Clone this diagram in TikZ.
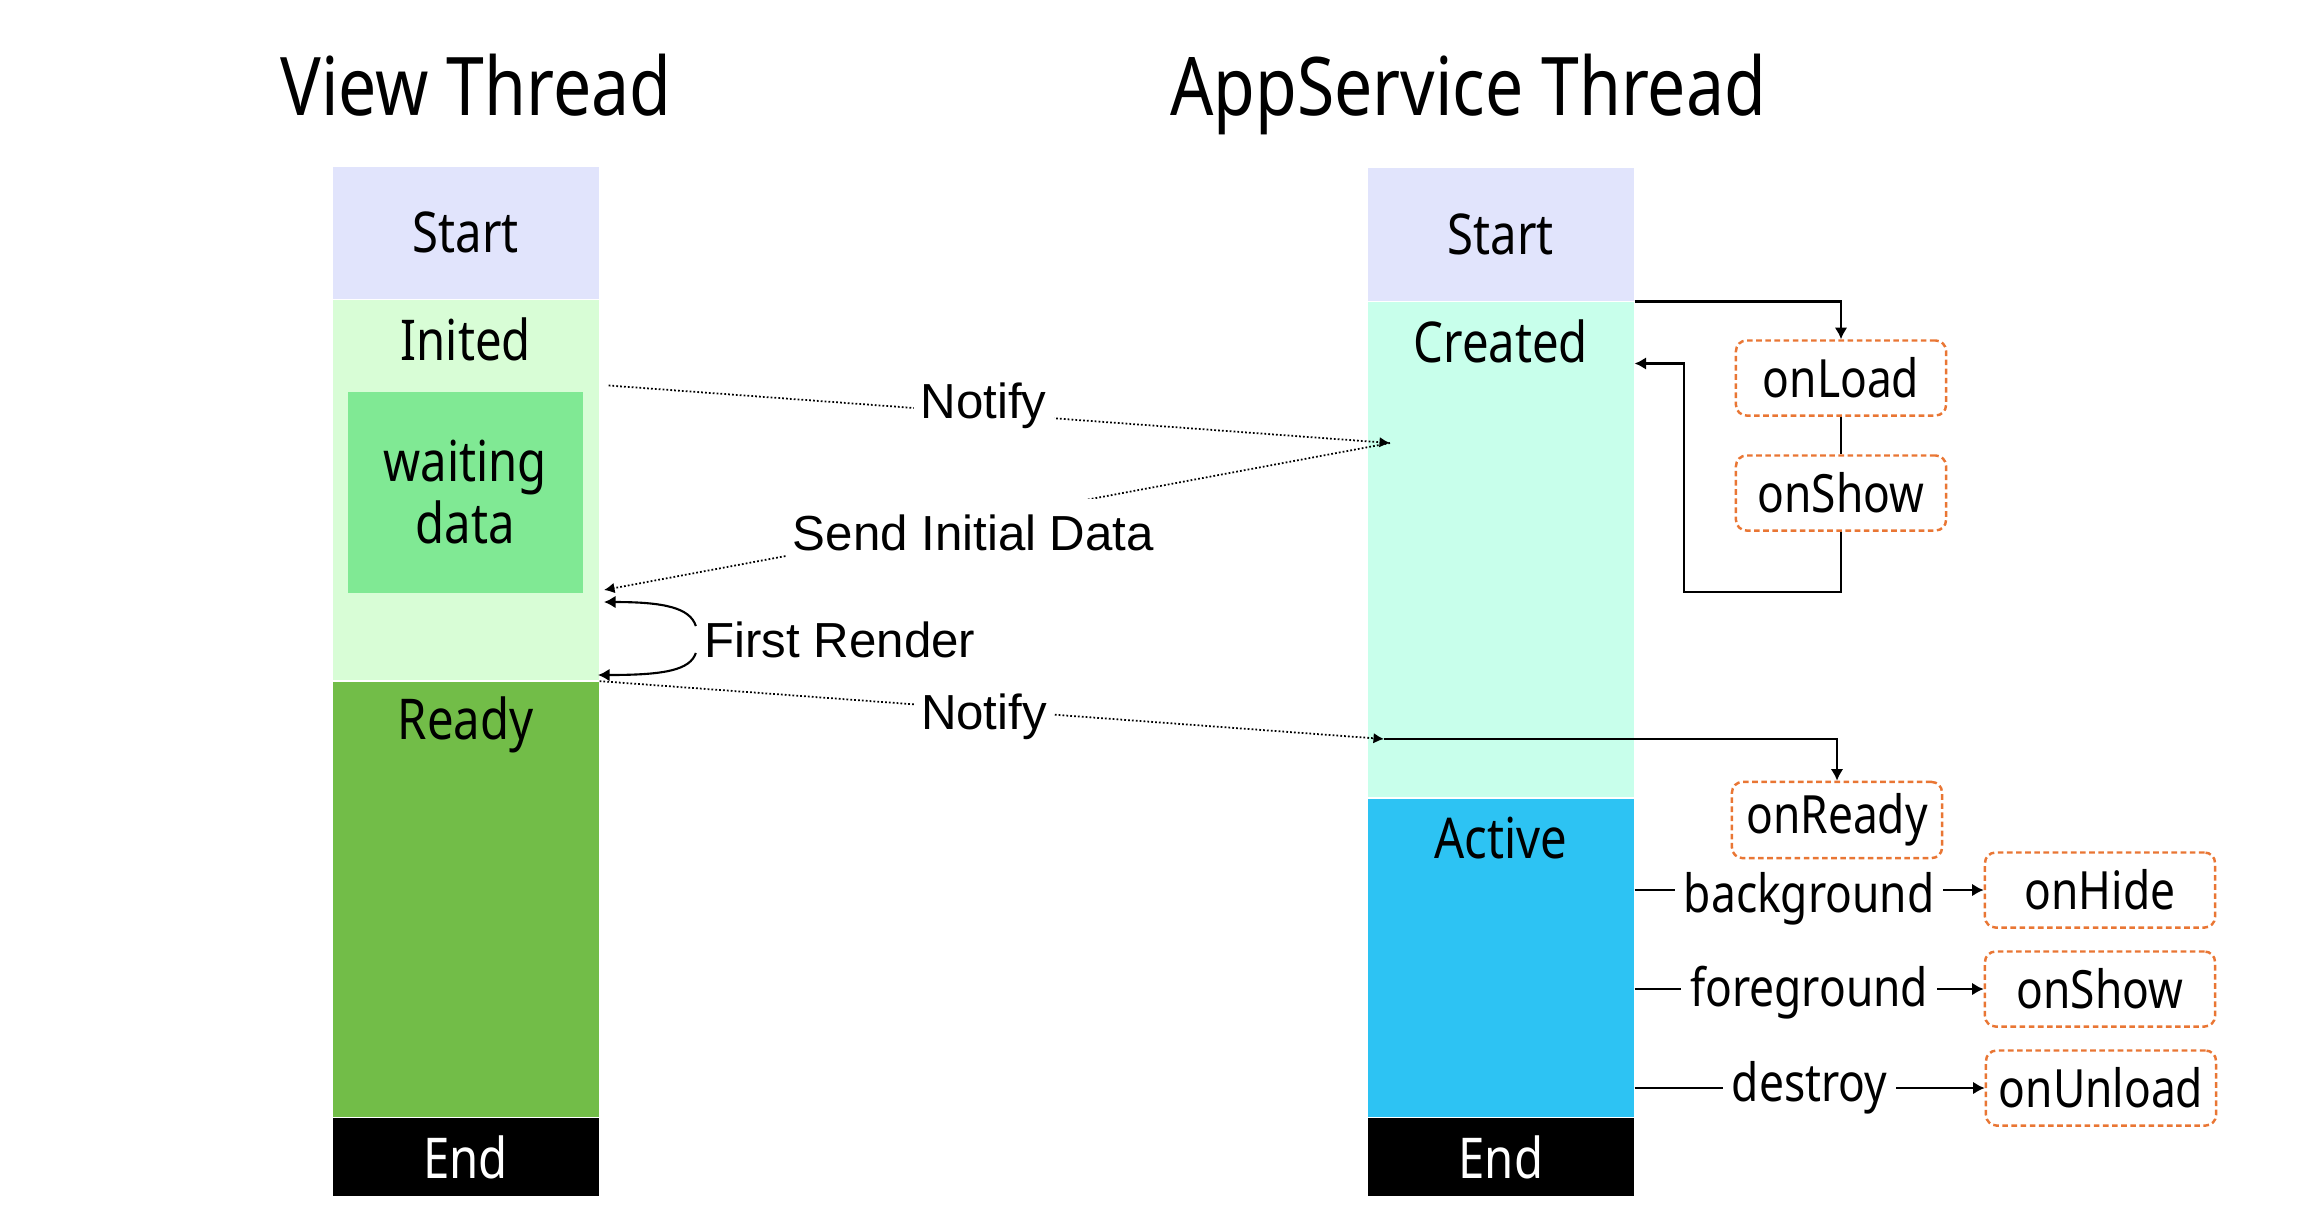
\documentclass[tikz,border=0pt]{standalone}
\usepackage{fontspec}
\setmainfont{Noto Sans}[FakeStretch=0.84]
\newfontfamily\msgfont{Liberation Sans}
\usepackage{tikz}
\usetikzlibrary{arrows.meta}
\usetikzlibrary{calc}
\definecolor{startblue}{RGB}{225,228,252}
\definecolor{initgreen}{RGB}{216,253,214}
\definecolor{waitgreen}{RGB}{128,233,148}
\definecolor{readygreen}{RGB}{114,189,72}
\definecolor{createdmint}{RGB}{200,255,235}
\definecolor{activeblue}{RGB}{45,195,243}
\definecolor{hookorange}{RGB}{233,118,52}
\tikzset{
    block/.style={anchor=north west, inner sep=0pt, minimum width=2.66cm,
        font=\fontsize{16}{19}\selectfont},
    state/.style={font=\fontsize{16}{19}\selectfont},
    thread/.style={anchor=base, font=\fontsize{23}{27}\selectfont},
    hook/.style={draw=hookorange, line width=0.7pt, dash pattern=on 1.6pt off 1pt,
        rounded corners=3pt, minimum width=2.1cm, minimum height=0.75cm,
        font=\fontsize{15}{18}\selectfont},
    message/.style={draw=black, line width=0.5pt, dash pattern=on 0.5pt off 0.6pt,
        -{Latex[length=3pt,width=3pt]}},
    call/.style={draw=black, line width=0.6pt, -{Latex[length=3.3pt,width=3.6pt]}},
    msglabel/.style={fill=white, inner sep=2pt, font=\msgfont\fontsize{14}{17}\selectfont},
    event/.style={fill=white, inner sep=2.5pt, font=\fontsize{15}{18}\selectfont}
}

\begin{document}
\begin{tikzpicture}[x=0.01cm, y=-0.01cm]
\useasboundingbox (0,0) rectangle (2318,1220);

% view thread
\node[thread] (vtitle) at (476,115) {View Thread};
\node[block, fill=startblue, minimum height=1.32cm] (vstart) at (332,166) {Start};
\node[block, fill=initgreen, minimum height=3.80cm] (vinit) at (vstart.south west) {};
\node[block, fill=readygreen, minimum height=4.35cm] (vready) at (vinit.south west) {};
\node[block, fill=black, text=white, minimum height=0.77cm] (vend) at (vready.south west) {End};
\node[block, fill=waitgreen, minimum width=2.35cm, minimum height=2.01cm, align=center,
    font=\fontsize{16}{17.5}\selectfont] (vwait) at (347,391) {waiting\\data};
\node[state] (vinitlbl) at ($(vinit.north)+(0,40)$) {Inited};
\node[state] (vreadylbl) at ($(vready.north)+(0,44)$) {Ready};

% appservice thread
\node[thread] (atitle) at (1468,115) {AppService Thread};
\node[block, fill=startblue, minimum height=1.33cm] (rstart) at (1367,167) {Start};
\node[block, fill=createdmint, minimum height=4.95cm] (rcreate) at (rstart.south west) {};
\node[block, fill=activeblue, minimum height=3.18cm] (ractive) at (rcreate.south west) {};
\node[block, fill=black, text=white, minimum height=0.77cm] (rend) at (ractive.south west) {End};
\node[state] (rcreatelbl) at ($(rcreate.north)+(0,40)$) {Created};
\node[state] (ractivelbl) at ($(ractive.north)+(0,40)$) {Active};

% lifecycle hooks
\node[hook] (onload) at (1841,378) {onLoad};
\node[hook] (onshowA) at (1841,493) {onShow};
\node[hook] (onready) at (1837,820) {onReady};
\node[hook, minimum width=2.3cm] (onhide) at (2100,890) {onHide};
\node[hook, minimum width=2.3cm] (onshowB) at (2100,989) {onShow};
\node[hook, minimum width=2.3cm] (onunload) at (2101,1088) {onUnload};

% messages between threads
\coordinate (cin) at (1390,443);
\coordinate (vin) at (604,590);
\coordinate (rin) at (1384,739);
\draw[message] ($(vinit.north east)+(9,86)$) -- node[msglabel, pos=0.48, yshift=2pt] {Notify} (cin);
\draw[message] (cin) -- node[msglabel, inner ysep=4.5pt, pos=0.53, yshift=-3.5pt] {Send Initial Data} (vin);
\draw[message] (vready.north east) -- node[msglabel, pos=0.49, yshift=-2pt] {Notify} (rin);

% first render
\node[font=\msgfont\fontsize{14}{17}\selectfont, inner sep=2pt] (frender) at (840,640) {First Render};
\draw[call] ($(frender.west)+(-1,-14)$) .. controls (690,608) and (665,602) .. (604,602);
\draw[call] ($(frender.west)+(-1,13)$) .. controls (690,670) and (665,675) .. (598,675);

% created hooks
\coordinate (back) at (1684,592);
\draw[call] (rcreate.north east) -| (onload.north);
\draw[line width=0.6pt] (onload.south) -- (onshowA.north);
\draw[call] (onshowA.south) |- (back) |- ($(rcreate.north east)+(0,62)$);
\draw[call] (rin) -| (onready.north);

% active events
\draw[call] (ractive.east |- onhide.west) -- node[event, yshift=-2.5pt] {background} (onhide.west);
\draw[call] (ractive.east |- onshowB.west) -- node[event, yshift=-1pt] {foreground} (onshowB.west);
\draw[call] (ractive.east |- onunload.west) -- node[event] {destroy} (onunload.west);
\end{tikzpicture}
\end{document}
